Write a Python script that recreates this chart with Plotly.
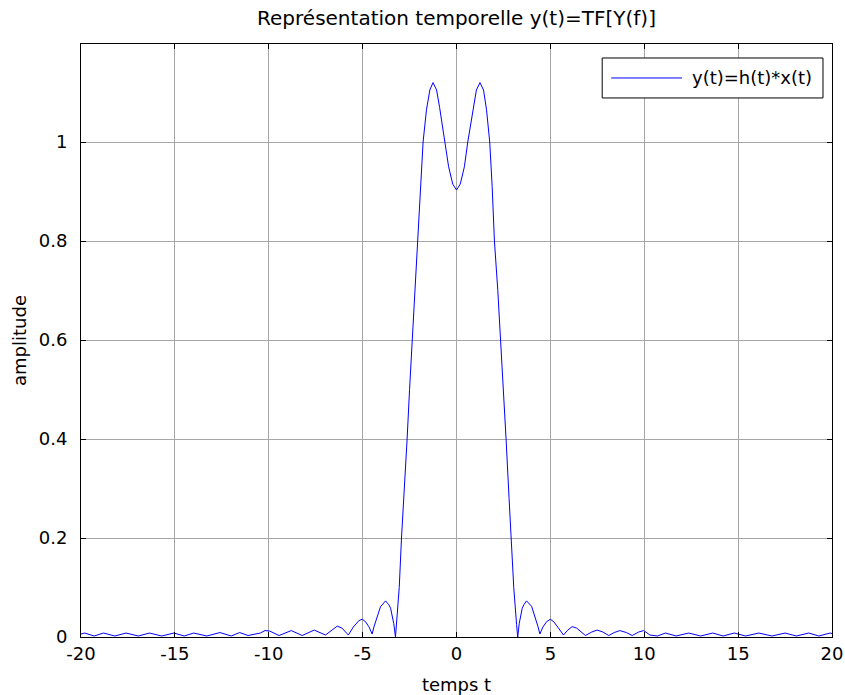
import plotly.graph_objects as go

# time samples (s) and amplitude
t_vals = [-20.0, -19.8, -19.3, -18.8, -18.2, -17.6, -16.95, -16.35, -15.7, -15.05,
          -14.5, -14.0, -13.3, -12.6, -12.0, -11.55, -11.1, -10.7, -10.45, -10.2,
          -9.95, -9.45, -8.8, -8.22, -7.58, -6.98, -6.35, -6.1, -5.9, -5.76,
          -5.5, -5.2, -5.02, -4.85, -4.67, -4.49, -4.4, -4.22, -4.05, -3.78,
          -3.6, -3.51, -3.4, -3.34, -3.25, -3.2, -3.05, -2.93, -2.8, -2.63,
          -2.5, -2.36, -2.2, -2.04, -1.9, -1.78, -1.6, -1.42, -1.25, -1.06,
          -0.9, -0.75, -0.6, -0.42, -0.2, 0.0, 0.2, 0.42, 0.6, 0.75,
          0.9, 1.06, 1.25, 1.44, 1.6, 1.77, 1.9, 2.02, 2.2, 2.36,
          2.5, 2.64, 2.8, 2.9, 3.05, 3.2, 3.26, 3.34, 3.4, 3.5,
          3.6, 3.73, 4.0, 4.2, 4.35, 4.44, 4.6, 4.8, 5.0, 5.2,
          5.45, 5.7, 5.9, 6.16, 6.4, 6.65, 6.87, 7.2, 7.49, 7.8,
          8.11, 8.4, 8.7, 9.05, 9.36, 9.7, 9.97, 10.3, 10.7, 11.13,
          11.7, 12.37, 13.0, 13.65, 14.2, 14.8, 15.4, 16.1, 16.8, 17.5,
          18.1, 18.76, 19.3, 19.9, 20.0]
y_vals = [0.006, 0.008, 0.002, 0.008, 0.002, 0.008, 0.002, 0.008, 0.002, 0.008,
          0.002, 0.008, 0.002, 0.009, 0.002, 0.009, 0.003, 0.006, 0.008, 0.013,
          0.012, 0.003, 0.013, 0.003, 0.014, 0.004, 0.022, 0.018, 0.010, 0.004,
          0.020, 0.033, 0.036, 0.031, 0.021, 0.006, 0.020, 0.041, 0.061, 0.073,
          0.065, 0.058, 0.040, 0.027, 0.0, 0.025, 0.10, 0.20, 0.28, 0.40,
          0.50, 0.60, 0.70, 0.80, 0.91, 1.00, 1.065, 1.105, 1.12, 1.105,
          1.07, 1.035, 1.00, 0.95, 0.915, 0.903, 0.915, 0.95, 1.00, 1.035,
          1.07, 1.105, 1.12, 1.105, 1.065, 1.00, 0.91, 0.80, 0.70, 0.60,
          0.50, 0.40, 0.28, 0.20, 0.10, 0.025, 0.0, 0.027, 0.040, 0.058,
          0.066, 0.073, 0.062, 0.040, 0.020, 0.006, 0.020, 0.031, 0.036, 0.030,
          0.017, 0.004, 0.013, 0.021, 0.018, 0.010, 0.003, 0.010, 0.014, 0.010,
          0.003, 0.009, 0.013, 0.009, 0.003, 0.010, 0.013, 0.004, 0.002, 0.008,
          0.002, 0.008, 0.002, 0.008, 0.002, 0.008, 0.002, 0.008, 0.002, 0.008,
          0.002, 0.008, 0.002, 0.008, 0.007]

x_ticks = [-20, -15, -10, -5, 0, 5, 10, 15, 20]
x_tick_labels = ["-20", "-15", "-10", "-5", "0", "5", "10", "15", "20"]
y_ticks = [0, 0.2, 0.4, 0.6, 0.8, 1.0]
y_tick_labels = ["0", "0.2", "0.4", "0.6", "0.8", "1"]
series_name = "y(t)=h(t)*x(t)"

FONT = "DejaVu Sans, Arial, sans-serif"
LINE_COLOR = "#0000ff"

fig = go.Figure()
fig.add_trace(go.Scatter(
    x=t_vals, y=y_vals, mode="lines", name=series_name,
    line=dict(color=LINE_COLOR, width=1), showlegend=False))

axis_common = dict(
    showline=True, linecolor="black", linewidth=1, mirror="allticks",
    ticks="inside", ticklen=5, tickcolor="black", automargin=False,
    showgrid=True, gridcolor="#a6a6a6", gridwidth=1, zeroline=False,
    tickfont=dict(family=FONT, size=18, color="black"),
)

# MATLAB-style legend box (top right of the axes)
lx0, lx1, ly0, ly1 = 0.694, 0.988, 0.909, 0.9764
ly_mid = (ly0 + ly1) / 2
fig.add_shape(type="rect", xref="paper", yref="paper", x0=lx0, x1=lx1, y0=ly0, y1=ly1,
              line=dict(color="black", width=1), fillcolor="white", layer="above")
fig.add_shape(type="line", xref="paper", yref="paper", x0=lx0 + 0.012, x1=0.8003,
              y0=ly_mid, y1=ly_mid, line=dict(color=LINE_COLOR, width=1), layer="above")
fig.add_annotation(xref="paper", yref="paper", x=0.8109, y=ly_mid, text=series_name,
                   showarrow=False, xanchor="left", yanchor="middle",
                   font=dict(family=FONT, size=18, color="black"))

fig.update_layout(
    template="none",
    width=845, height=695,
    margin=dict(l=81, r=13, t=44, b=58, autoexpand=False),
    paper_bgcolor="white", plot_bgcolor="white",
    font=dict(family=FONT, size=18, color="black"),
    title=dict(text="Représentation temporelle y(t)=TF[Y(f)]",
               x=0.5, xref="paper", xanchor="center", y=0.974, yanchor="middle",
               font=dict(family=FONT, size=20, color="black")),
    xaxis=dict(range=[-20, 20], tickvals=x_ticks, ticktext=x_tick_labels,
               title=dict(text="temps t", standoff=17,
                          font=dict(family=FONT, size=18)),
               **axis_common),
    yaxis=dict(range=[0, 1.198], tickvals=y_ticks, ticktext=y_tick_labels,
               ticklabelstandoff=9,
               title=dict(text="amplitude", standoff=7,
                          font=dict(family=FONT, size=18)),
               **axis_common),
    showlegend=False,
)

fig.write_html("out.html", config={"displayModeBar": False},
               post_script="document.body.style.margin='0px';document.body.style.overflow='hidden';")
